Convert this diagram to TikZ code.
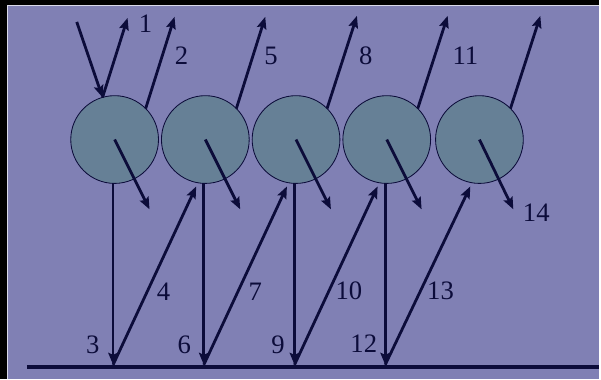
\documentclass[tikz,border=0pt]{standalone}
\usepackage{fontspec}
\setmainfont{Liberation Serif}
\usetikzlibrary{arrows.meta}

\definecolor{bgpurple}{RGB}{128,128,180}
\definecolor{ballfill}{RGB}{102,128,150}
\definecolor{ink}{RGB}{12,12,58}

\begin{document}
\begin{tikzpicture}[
    x=0.025cm, y=-0.025cm,
    ball/.style={circle, draw=ink, line width=0.6pt, fill=ballfill, minimum size=2.2cm, inner sep=0pt, outer sep=0pt},
    ray/.style={-{Stealth[length=3mm, width=2.4mm, inset=0.5mm]}, line width=2pt, draw=ink},
    num/.style={font=\fontsize{19}{22}\selectfont, text=ink, inner sep=0pt}
]
% frame
\fill[black] (0,0) rectangle (601,380);
\fill[bgpurple] (8,6) rectangle (601,380);
\draw[white!70!bgpurple, line width=0.5pt] (7.5,380) -- (7.5,5.5) -- (601,5.5);

% balls
\node[ball] (c1) at (115,140) {};
\node[ball] (c2) at (206,140) {};
\node[ball] (c3) at (297,140) {};
\node[ball] (c4) at (388,140) {};
\node[ball] (c5) at (481,140) {};

% floor
\coordinate (fl) at (27,368);
\coordinate (fr) at (601,368);
\draw[ink, line width=2.8pt] (fl) -- (fr);
\coordinate (floory) at (0,366);
\coordinate (f1) at (c1.268 |- floory);
\coordinate (f2) at (c2.268 |- floory);
\coordinate (f3) at (c3.268 |- floory);
\coordinate (f4) at (c4.268 |- floory);

% incoming ray and reflections at the top
\coordinate (in0) at (77,22);
\coordinate (t1) at (128,18);
\draw[ray] (in0) -- (c1.106);
\draw[ray] (c1.106) -- (t1);
\coordinate (t2) at ([shift={(29,-92)}]c1.45);
\coordinate (t5) at ([shift={(29,-92)}]c2.45);
\coordinate (t8) at ([shift={(30,-93)}]c3.45);
\coordinate (t11) at ([shift={(30,-93)}]c4.45);
\coordinate (t14) at ([shift={(30,-93)}]c5.45);
\draw[ray] (c1.45) -- (t2);
\draw[ray] (c2.45) -- (t5);
\draw[ray] (c3.45) -- (t8);
\draw[ray] (c4.45) -- (t11);
\draw[ray] (c5.45) -- (t14);

% rays passing through each ball
\coordinate (o1) at ([shift={(35,70)}]c1.center);
\coordinate (o2) at ([shift={(35,70)}]c2.center);
\coordinate (o3) at ([shift={(35,70)}]c3.center);
\coordinate (o4) at ([shift={(35,70)}]c4.center);
\coordinate (o5) at ([shift={(34,70)}]c5.center);
\draw[ray] (c1.center) -- (o1);
\draw[ray] (c2.center) -- (o2);
\draw[ray] (c3.center) -- (o3);
\draw[ray] (c4.center) -- (o4);
\draw[ray] (c5.center) -- (o5);

% down to the floor and back up
\coordinate (u2) at ([shift={(0,4)}]c2.258);
\coordinate (u3) at ([shift={(0,4)}]c3.258);
\coordinate (u4) at ([shift={(0,4)}]c4.258);
\coordinate (u5) at ([shift={(0,4)}]c5.258);
\draw[ray] (c1.268) -- (f1);
\draw[ray] (f1) -- (u2);
\draw[ray] (c2.268) -- (f2);
\draw[ray] (f2) -- (u3);
\draw[ray] (c3.268) -- (f3);
\draw[ray] (f3) -- (u4);
\draw[ray] (c4.268) -- (f4);
\draw[ray] (f4) -- (u5);

% labels
\node[num] (l1) at (146,24) {1};
\node[num] (l2) at (182,56) {2};
\node[num] (l3) at (93,346) {3};
\node[num] (l4) at (164,293) {4};
\node[num] (l5) at (272,56) {5};
\node[num] (l6) at (185,346) {6};
\node[num] (l7) at (256,293) {7};
\node[num] (l8) at (367,56) {8};
\node[num] (l9) at (279,346) {9};
\node[num] (l10) at (350,292) {10};
\node[num] (l11) at (467,56) {11};
\node[num] (l12) at (365,345) {12};
\node[num] (l13) at (442,292) {13};
\node[num] (l14) at (538,213) {14};
\end{tikzpicture}
\end{document}
